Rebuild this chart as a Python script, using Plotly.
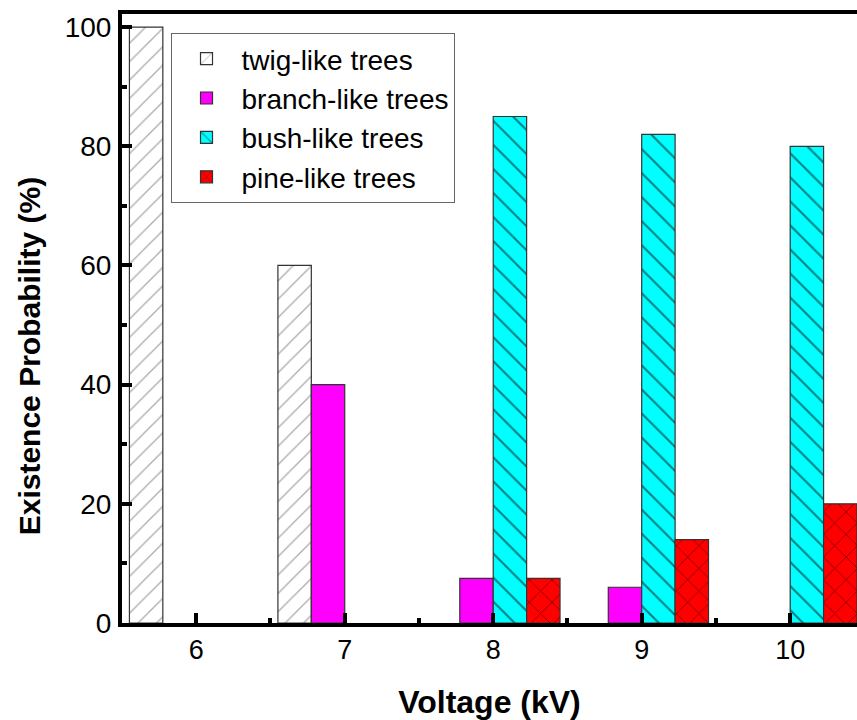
import plotly.graph_objects as go

# Applied voltage (kV) and existence probability (%) of each tree type
voltages = [6, 7, 8, 9, 10]
twig = [100, 60, None, None, None]
branch = [None, 40, 7.5, 6, None]
bush = [None, None, 85, 82, 80]
pine = [None, None, 7.5, 14, 20]

# name, values, fill colour, hatch shape, hatch colour, hatch size, hatch solidity
series = [
    ("twig-like trees", twig, "white", "/", "#555555", 13, 0.1),
    ("branch-like trees", branch, "#ff00ff", "", "#000000", 13, 0.1),
    ("bush-like trees", bush, "#00ffff", "\\", "#000000", 17, 0.12),
    ("pine-like trees", pine, "#ff0000", "x", "#000000", 16, 0.1),
]

fig = go.Figure()
for name, vals, color, shape, fg, size, sol in series:
    fig.add_trace(go.Bar(
        x=voltages, y=vals, name=name,
        marker=dict(
            color=color,
            line=dict(color="#333333", width=1.2),
            pattern=dict(shape=shape, fgcolor=fg, bgcolor=color,
                         size=size, solidity=sol, fillmode="overlay"),
        ),
    ))

font_family = "Liberation Sans, Arial, sans-serif"

fig.update_layout(
    width=857, height=720,
    margin=dict(l=122, r=0, t=14, b=97),
    paper_bgcolor="white", plot_bgcolor="white",
    barmode="group", bargap=0.1, bargroupgap=0,
    font=dict(family=font_family, size=28, color="black"),
    showlegend=True,
    legend=dict(
        x=0.066, y=0.969, xanchor="left", yanchor="top",
        bgcolor="white", bordercolor="#666666", borderwidth=1,
        font=dict(size=28, family=font_family, color="black"),
        itemwidth=60, tracegroupgap=0,
    ),
    xaxis=dict(
        range=[5.5, 10.45], tickvals=voltages,
        ticks="inside", ticklen=10, tickwidth=4, tickcolor="black",
        ticklabelstandoff=0,
        showline=True, linecolor="black", linewidth=4, mirror=True,
        showgrid=False, zeroline=False,
        minor=dict(ticks="inside", ticklen=5, tickwidth=4, tickcolor="black",
                   dtick=0.5, tick0=5.5, showgrid=False),
        title=dict(text="<b>Voltage (kV)</b>", font=dict(size=32), standoff=30),
        tickfont=dict(size=27),
    ),
    yaxis=dict(
        range=[0, 102.2], tickvals=[0, 20, 40, 60, 80, 100],
        ticks="inside", ticklen=10, tickwidth=4, tickcolor="black",
        ticklabelstandoff=1,
        showline=True, linecolor="black", linewidth=4, mirror=False,
        showgrid=False, zeroline=False,
        minor=dict(ticks="inside", ticklen=5, tickwidth=4, tickcolor="black",
                   dtick=10, tick0=0, showgrid=False),
        tickfont=dict(size=28),
    ),
)

# Y-axis title, set slightly below the centre of the axis
fig.add_annotation(
    text="<b>Existence Probability (%)</b>", textangle=-90,
    xref="paper", yref="paper", x=-0.1265, y=0.438,
    xanchor="center", yanchor="middle", showarrow=False,
    font=dict(size=30, family=font_family, color="black"),
)

fig.write_html("out.html")
